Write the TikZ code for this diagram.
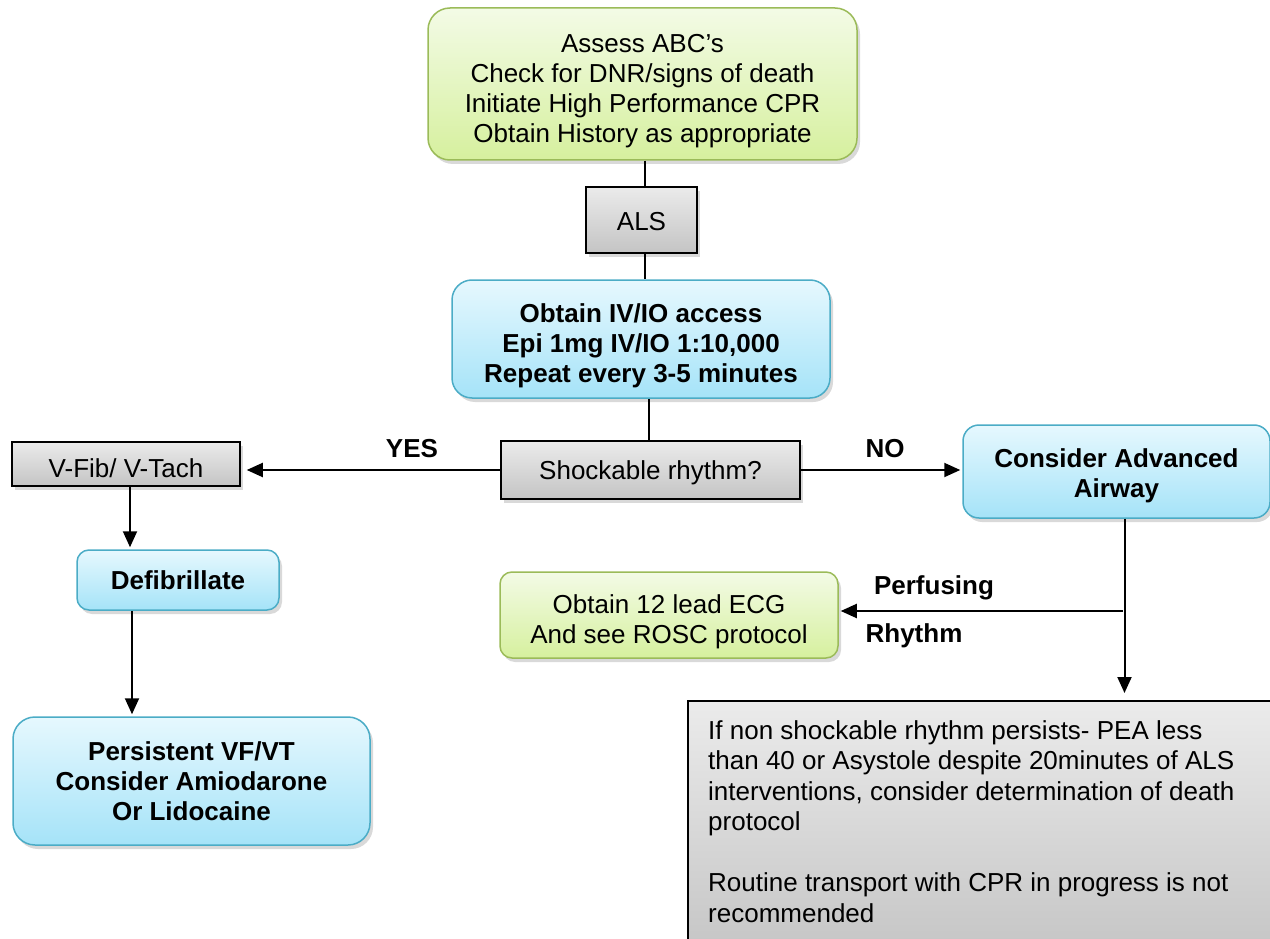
\documentclass[tikz,border=0pt]{standalone}
\usepackage{fontspec}
\setmainfont{Liberation Sans}
\usetikzlibrary{shadows,arrows.meta,shadings}
\definecolor{gtop}{HTML}{F3FBE6}
\definecolor{gbot}{HTML}{D6F09E}
\definecolor{gbord}{HTML}{9BBB59}
\definecolor{btop}{HTML}{E6F8FE}
\definecolor{bbot}{HTML}{A5E3F8}
\definecolor{bbord}{HTML}{4BACC6}
\definecolor{ytop}{HTML}{EBEBEB}
\definecolor{ybot}{HTML}{C4C4C4}
\begin{document}
\begin{tikzpicture}[x=1pt,y=-1pt,
  font=\fontsize{26}{30}\selectfont,
  box/.style={inner sep=0pt, align=center,
    drop shadow={opacity=0.3,shadow xshift=3pt,shadow yshift=-4pt}},
  greenbox/.style={box, draw=gbord, line width=1.5pt, top color=gtop, bottom color=gbot},
  bluebox/.style={box, draw=bbord, line width=1.5pt, top color=btop, bottom color=bbot, font=\fontsize{26}{30}\selectfont\bfseries},
  graybox/.style={box, draw=black, line width=1.5pt, top color=ytop, bottom color=ybot},
  txt/.style={inner sep=0pt, align=center},
  btxt/.style={txt, font=\fontsize{26}{30}\selectfont\bfseries},
  lbl/.style={font=\fontsize{26}{30}\selectfont\bfseries, inner sep=0pt},
  conn/.style={line width=2pt},
  arr/.style={conn, -{Triangle[length=16pt,width=14pt]}}
]
\useasboundingbox (0,0) rectangle (1270,939);

\node[greenbox, rounded corners=22pt, minimum width=429pt, minimum height=152pt] (assess) at (642.5,84) {};
\node[txt] (assesst) at ([yshift=-7pt]assess.center)
  {Assess ABC{\char"0027}s\\Check for DNR/signs of death\\Initiate High Performance CPR\\Obtain History as appropriate};
\node[graybox, minimum width=111pt, minimum height=66pt] (als) at (641.5,220) {};
\node[txt] (alst) at ([yshift=-2pt]als.center) {ALS};
\node[bluebox, rounded corners=20pt, minimum width=378pt, minimum height=118pt] (iv) at (641,339) {};
\node[btxt] (ivt) at ([yshift=-7pt]iv.center)
  {Obtain IV/IO access\\Epi 1mg IV/IO 1:10,000\\Repeat every 3-5 minutes};
\node[graybox, minimum width=299pt, minimum height=58pt] (shock) at (650.5,470) {};
\node[txt] (shockt) at ([yshift=-3pt]shock.center) {Shockable rhythm?};
\node[graybox, minimum width=228pt, minimum height=44pt] (vfib) at (126,464) {};
\node[txt] (vfibt) at ([yshift=-4pt]vfib.center) {V-Fib/ V-Tach};
\node[bluebox, rounded corners=12pt, minimum width=202pt, minimum height=60pt] (defib) at (178,580) {Defibrillate};
\node[bluebox, rounded corners=22pt, minimum width=357pt, minimum height=128pt] (persist) at (191.5,781)
  {Persistent VF/VT\\Consider Amiodarone\\Or Lidocaine};
\node[bluebox, rounded corners=16pt, minimum width=307pt, minimum height=93pt] (airway) at (1116.5,471.5) {};
\node[btxt] (airwayt) at ([yshift=-4pt]airway.center) {Consider Advanced\\Airway};
\node[greenbox, rounded corners=12pt, minimum width=338pt, minimum height=86pt] (rosc) at (669,615) {};
\node[txt] (rosct) at ([yshift=-7pt]rosc.center) {Obtain 12 lead ECG\\And see ROSC protocol};
\node[graybox, anchor=north west, minimum width=600pt, minimum height=260pt] (death) at (687,700) {};
\node[inner sep=0pt, anchor=north west, align=left, font=\fontsize{26}{30.5}\selectfont] (deatht) at (708,720)
  {If non shockable rhythm persists- PEA less\\
   than 40 or Asystole despite 20minutes of ALS\\
   interventions, consider determination of death\\
   protocol\\[30.5pt]
   Routine transport with CPR in progress is not\\
   recommended};

\node[lbl] (yes) at (412,449) {YES};
\node[lbl] (no) at (885,449) {NO};
\node[lbl] (perf) at (934,588) {Perfusing};
\node[lbl] (rhy) at (914,636) {Rhythm};

\draw[conn] ([xshift=3pt]als.north |- assess.south) -- ([xshift=3pt]als.north);
\draw[conn] ([xshift=3pt]als.south) -- ([xshift=3pt]als.south |- iv.north);
\draw[conn] ([xshift=-2pt]shock.north |- iv.south) -- ([xshift=-2pt]shock.north);
\draw[arr, shorten >=6pt] (shock.west) -- (vfib.east |- shock.west);
\draw[arr, shorten >=2pt] (shock.east) -- (airway.west |- shock.east);
\draw[arr, shorten >=2pt] ([xshift=4pt]vfib.south) -- ([xshift=4pt]vfib.south |- defib.north);
\draw[arr, shorten >=2pt] ([xshift=6pt]vfib.south |- defib.south) -- ([xshift=6pt]vfib.south |- persist.north);
\coordinate (split) at (1123,611);
\draw[arr, shorten >=7pt] ([xshift=8pt]airway.south) -- ([xshift=8pt]airway.south |- death.north);
\draw[arr, shorten >=2pt] (split) -- (rosc.east |- split);
\end{tikzpicture}
\end{document}
